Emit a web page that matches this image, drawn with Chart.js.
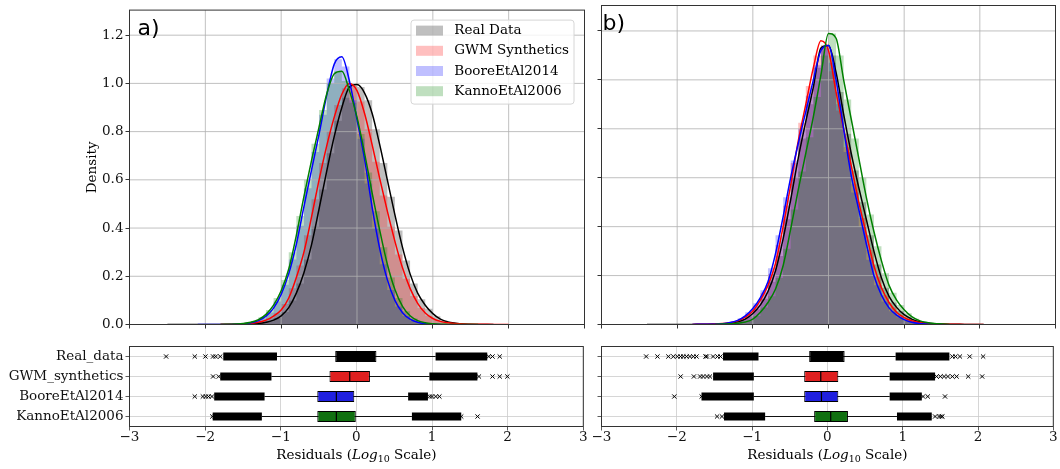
<!DOCTYPE html>
<html>
<head>
<meta charset="utf-8">
<title>Residuals</title>
<script src="https://cdn.jsdelivr.net/npm/chart.js@4.4.1/dist/chart.umd.min.js"></script>
<style>
  html, body { margin: 0; padding: 0; background: #ffffff; }
  #wrap { position: relative; width: 1060px; height: 469px; overflow: hidden; }
  #wrap canvas { position: absolute; }
</style>
</head>
<body>
<div id="wrap">
  <canvas id="histA" width="590" height="335" style="left:0px;top:0px;width:590px;height:335px"></canvas>
  <canvas id="histB" width="470" height="335" style="left:590px;top:0px;width:470px;height:335px"></canvas>
  <canvas id="boxA" width="590" height="134" style="left:0px;top:335px;width:590px;height:134px"></canvas>
  <canvas id="boxB" width="470" height="134" style="left:590px;top:335px;width:470px;height:134px"></canvas>
</div>
<script>
const seriesNames = ['Real Data', 'GWM Synthetics', 'BooreEtAl2014', 'KannoEtAl2006'];
const boxLabels = ['Real_data', 'GWM_synthetics', 'BooreEtAl2014', 'KannoEtAl2006'];
const lineColors = ['#000000', '#ff0000', '#0000ff', '#008000'];
const histColors = ['rgba(0,0,0,0.25)', 'rgba(255,0,0,0.25)', 'rgba(0,0,255,0.25)', 'rgba(0,128,0,0.25)'];
const boxColors = ['#000000', '#df2020', '#2020df', '#107010'];

// histogram bin centres (bin width 0.1)
const binCenters = [-1.55, -1.45, -1.35, -1.25, -1.15, -1.05, -0.95, -0.85, -0.75, -0.65, -0.55, -0.45, -0.35, -0.25, -0.15, -0.05,
  0.05, 0.15, 0.25, 0.35, 0.45, 0.55, 0.65, 0.75, 0.85, 0.95, 1.05, 1.15, 1.25, 1.35, 1.45, 1.55];

// panel a) histograms
const realHistA = [0.001, 0.002, 0.003, 0.007, 0.013, 0.027, 0.052, 0.1, 0.17, 0.27, 0.405, 0.56, 0.71, 0.845, 0.94, 0.99,
  0.985, 0.93, 0.81, 0.67, 0.53, 0.39, 0.265, 0.17, 0.105, 0.065, 0.034, 0.016, 0.008, 0.004, 0.002, 0.001];
const gwmHistA = [0.002, 0.004, 0.007, 0.013, 0.026, 0.047, 0.085, 0.15, 0.245, 0.37, 0.52, 0.67, 0.8, 0.91, 0.98, 0.99,
  0.925, 0.81, 0.675, 0.535, 0.405, 0.29, 0.19, 0.118, 0.068, 0.036, 0.019, 0.01, 0.005, 0.003, 0.001, 0.001];
const booreHistA = [0.002, 0.005, 0.011, 0.025, 0.05, 0.095, 0.165, 0.27, 0.41, 0.565, 0.715, 0.87, 1.02, 1.1, 1.07, 0.93,
  0.77, 0.585, 0.4, 0.25, 0.143, 0.075, 0.035, 0.015, 0.006, 0.002, 0.001, 0, 0, 0, 0, 0];
const kannoHistA = [0.003, 0.006, 0.014, 0.03, 0.06, 0.11, 0.185, 0.3, 0.45, 0.6, 0.75, 0.89, 1.0, 1.05, 1.01, 0.92,
  0.79, 0.63, 0.47, 0.32, 0.195, 0.11, 0.055, 0.025, 0.011, 0.005, 0.002, 0.001, 0, 0, 0, 0];

// panel a) kde curves
const kdeXA = [-2.5, -2.1, -1.8, -1.6, -1.5, -1.4, -1.3, -1.2, -1.1, -1.0, -0.9, -0.8, -0.7, -0.6, -0.5, -0.4, -0.3, -0.2, -0.1,
  0, 0.1, 0.2, 0.3, 0.4, 0.5, 0.6, 0.7, 0.8, 0.9, 1.0, 1.1, 1.2, 1.3, 1.4, 1.5, 1.6, 1.8, 2.0];
const realKdeA = [0, 0, 0.0003, 0.0005, 0.001, 0.002, 0.004, 0.009, 0.018, 0.036, 0.07, 0.13, 0.215, 0.33, 0.48, 0.635, 0.78, 0.9, 0.985,
  0.995, 0.96, 0.875, 0.745, 0.6, 0.455, 0.32, 0.21, 0.13, 0.08, 0.045, 0.022, 0.01, 0.005, 0.002, 0.001, 0.0005, 0.0002, null];
const gwmKdeA = [null, null, 0.001, 0.002, 0.003, 0.005, 0.009, 0.018, 0.035, 0.06, 0.11, 0.195, 0.3, 0.445, 0.6, 0.74, 0.86, 0.955, 1.0,
  0.97, 0.875, 0.745, 0.605, 0.47, 0.345, 0.235, 0.15, 0.088, 0.048, 0.025, 0.013, 0.007, 0.004, 0.002, 0.001, 0.001, 0.0005, 0.0002];
const booreKdeA = [null, 0, 0.0003, 0.001, 0.003, 0.007, 0.016, 0.035, 0.068, 0.125, 0.211, 0.333, 0.489, 0.64, 0.79, 0.95, 1.08, 1.11, 1.01,
  0.85, 0.686, 0.486, 0.314, 0.186, 0.1, 0.049, 0.022, 0.009, 0.003, 0.001, 0.0003, null, null, null, null, null, null, null];
const kannoKdeA = [null, null, 0.0005, 0.002, 0.004, 0.009, 0.02, 0.042, 0.08, 0.14, 0.23, 0.37, 0.53, 0.68, 0.82, 0.955, 1.04, 1.05, 0.97,
  0.86, 0.71, 0.545, 0.39, 0.25, 0.145, 0.075, 0.036, 0.016, 0.007, 0.003, 0.001, 0.0005, 0.0003, 0.0002, 0.0001, 0, null, null];

// panel b) histograms
const realHistB = [0.001, 0.002, 0.004, 0.008, 0.016, 0.033, 0.062, 0.105, 0.175, 0.28, 0.43, 0.6, 0.76, 0.9, 1.05, 1.14,
  1.1, 0.95, 0.78, 0.63, 0.5, 0.365, 0.245, 0.15, 0.09, 0.055, 0.03, 0.016, 0.008, 0.004, 0.002, 0.001];
const gwmHistB = [0.001, 0.003, 0.005, 0.011, 0.022, 0.042, 0.077, 0.13, 0.205, 0.325, 0.485, 0.66, 0.825, 0.975, 1.1, 1.14,
  1.035, 0.875, 0.725, 0.575, 0.435, 0.305, 0.195, 0.12, 0.07, 0.039, 0.021, 0.011, 0.006, 0.003, 0.002, 0.001];
const booreHistB = [0.001, 0.002, 0.005, 0.012, 0.026, 0.05, 0.087, 0.14, 0.23, 0.365, 0.52, 0.67, 0.8, 0.935, 1.06, 1.13,
  1.07, 0.9, 0.705, 0.54, 0.4, 0.265, 0.16, 0.094, 0.054, 0.03, 0.014, 0.006, 0.003, 0.001, 0.001, 0];
const kannoHistB = [0, 0.001, 0.002, 0.003, 0.007, 0.016, 0.035, 0.07, 0.115, 0.19, 0.31, 0.47, 0.625, 0.765, 0.93, 1.1,
  1.19, 1.1, 0.92, 0.76, 0.6, 0.45, 0.32, 0.21, 0.13, 0.08, 0.046, 0.024, 0.012, 0.006, 0.003, 0.001];

// panel b) kde curves
const kdeXB = [-2.4, -2.1, -1.8, -1.6, -1.5, -1.4, -1.3, -1.2, -1.1, -1.0, -0.9, -0.8, -0.7, -0.6, -0.5, -0.4, -0.3, -0.2, -0.1,
  0, 0.1, 0.2, 0.3, 0.4, 0.5, 0.6, 0.7, 0.8, 0.9, 1.0, 1.1, 1.2, 1.3, 1.4, 1.5, 1.6, 1.8, 2.05];
const realKdeB = [0, 0.0002, 0.0005, 0.001, 0.002, 0.003, 0.006, 0.011, 0.022, 0.045, 0.08, 0.135, 0.22, 0.35, 0.51, 0.68, 0.83, 0.97, 1.13,
  1.14, 1.03, 0.86, 0.7, 0.56, 0.43, 0.3, 0.19, 0.115, 0.07, 0.04, 0.022, 0.011, 0.006, 0.003, 0.002, 0.001, 0.0005, 0];
const gwmKdeB = [null, null, 0.0005, 0.001, 0.002, 0.004, 0.007, 0.015, 0.03, 0.055, 0.1, 0.16, 0.25, 0.4, 0.57, 0.75, 0.9, 1.05, 1.16,
  1.12, 0.95, 0.8, 0.65, 0.5, 0.37, 0.24, 0.15, 0.09, 0.05, 0.028, 0.015, 0.008, 0.004, 0.002, 0.001, 0.001, 0.0005, 0];
const booreKdeB = [null, null, 0.0003, 0.001, 0.001, 0.003, 0.008, 0.017, 0.035, 0.065, 0.11, 0.175, 0.29, 0.44, 0.6, 0.74, 0.87, 1.0, 1.12,
  1.14, 1.0, 0.8, 0.61, 0.47, 0.33, 0.2, 0.12, 0.068, 0.038, 0.02, 0.009, 0.004, 0.002, 0.001, 0.0005, null, null, null];
const kannoKdeB = [null, null, null, null, 0.0005, 0.002, 0.003, 0.005, 0.01, 0.022, 0.05, 0.09, 0.145, 0.24, 0.39, 0.55, 0.7, 0.85, 1.02,
  1.19, 1.17, 1.0, 0.84, 0.68, 0.52, 0.38, 0.26, 0.16, 0.1, 0.06, 0.032, 0.016, 0.008, 0.004, 0.002, 0, null, null];

// box plots, panel a)
const q1A = [-0.28, -0.356, -0.517, -0.517];
const medA = [-0.01, -0.088, -0.265, -0.265];
const q3A = [0.265, 0.179, -0.028, -0.008];
const whLoA = [-1.05, -1.123, -1.214, -1.25];
const whHiA = [1.047, 0.965, 0.684, 0.734];
const denseLoA = [-1.76, -1.8, -1.88, -1.9];
const denseHiA = [1.73, 1.6, 0.946, 1.386];
const realOutA = [-2.516, -2.137, -1.996, -1.895, -1.86, -1.8, 1.75, 1.8, 1.895];
const gwmOutA = [-1.895, -1.82, 1.62, 1.8, 1.895, 1.996];
const booreOutA = [-2.137, -2.03, -1.99, -1.955, -1.91, 0.97, 1.0, 1.05, 1.097];
const kannoOutA = [-1.905, -1.87, 1.3, 1.35, 1.386, 1.602];

// box plots, panel b)
const q1B = [-0.242, -0.308, -0.308, -0.176];
const medB = [-0.01, -0.088, -0.079, 0.044];
const q3B = [0.229, 0.145, 0.145, 0.273];
const whLoB = [-0.915, -0.977, -0.977, -0.827];
const whHiB = [0.906, 0.827, 0.827, 0.924];
const denseLoB = [-1.386, -1.518, -1.672, -1.373];
const denseHiB = [1.62, 1.43, 1.254, 1.386];
const realOutB = [-2.407, -2.257, -2.112, -2.046, -1.993, -1.95, -1.914, -1.87, -1.826, -1.78, -1.738, -1.619, -1.6, -1.518, -1.46, -1.42,
  1.66, 1.7, 1.76, 1.89, 2.068];
const gwmOutB = [-1.949, -1.773, -1.69, -1.65, -1.6, -1.56, 1.45, 1.5, 1.55, 1.6, 1.66, 1.716, 1.87, 2.055];
const booreOutB = [-2.033, -1.67, -1.62, 1.27, 1.333, 1.562];
const kannoOutB = [-1.465, -1.4, 1.43, 1.483, 1.509, 1.527];

const serif = '"DejaVu Serif", "Liberation Serif", serif';

function minusLabel(v) {
  return v < 0 ? '\u2212' + Math.abs(v) : String(v);
}

// grid drawn after the histograms and before the kde lines (matplotlib z-order)
const gridBetween = {
  id: 'gridBetween',
  beforeDatasetsDraw(chart) { chart.$gridDone = false; },
  beforeDatasetDraw(chart, args) {
    if (chart.$gridDone || !chart.data.datasets[args.index].isKde) return;
    chart.$gridDone = true;
    const ctx = chart.ctx;
    const a = chart.chartArea;
    ctx.save();
    ctx.strokeStyle = '#b0b0b0';
    ctx.lineWidth = 0.8;
    chart.scales.x.ticks.forEach(t => {
      const px = chart.scales.x.getPixelForValue(t.value);
      ctx.beginPath(); ctx.moveTo(px, a.top); ctx.lineTo(px, a.bottom); ctx.stroke();
    });
    chart.scales.y.ticks.forEach(t => {
      const py = chart.scales.y.getPixelForValue(t.value);
      ctx.beginPath(); ctx.moveTo(a.left, py); ctx.lineTo(a.right, py); ctx.stroke();
    });
    ctx.restore();
  }
};

const frame = {
  id: 'frame',
  afterDatasetsDraw(chart) {
    const ctx = chart.ctx;
    const a = chart.chartArea;
    ctx.save();
    ctx.strokeStyle = '#333333';
    ctx.lineWidth = 1;
    ctx.strokeRect(a.left, a.top, a.right - a.left, a.bottom - a.top);
    ctx.restore();
  }
};

function panelLetter(text, dx) {
  return {
    id: 'panelLetter',
    afterDraw(chart) {
      const ctx = chart.ctx;
      ctx.save();
      ctx.font = '22px "DejaVu Sans", sans-serif';
      ctx.fillStyle = '#000';
      ctx.textBaseline = 'alphabetic';
      ctx.fillText(text, chart.chartArea.left + dx, chart.chartArea.top + 24.5);
      ctx.restore();
    }
  };
}

const legendBox = {
  id: 'legendBox',
  afterDraw(chart) {
    const ctx = chart.ctx;
    const a = chart.chartArea;
    const x0 = a.right - 173.5, y0 = a.top + 10, w = 163, h = 84;
    ctx.save();
    ctx.beginPath();
    ctx.roundRect(x0, y0, w, h, 3);
    ctx.fillStyle = 'rgba(255,255,255,0.8)';
    ctx.fill();
    ctx.strokeStyle = '#d6d6d6';
    ctx.lineWidth = 1;
    ctx.stroke();
    ctx.font = '13.5px ' + serif;
    ctx.textBaseline = 'middle';
    seriesNames.forEach((name, k) => {
      const cy = y0 + 10.5 + k * 20.2;
      ctx.fillStyle = histColors[k];
      ctx.fillRect(x0 + 5, cy - 5, 27, 10);
      ctx.fillStyle = '#000';
      ctx.fillText(name, x0 + 43.3, cy);
    });
    ctx.restore();
  }
};

const densityLabel = {
  id: 'densityLabel',
  afterDraw(chart) {
    const ctx = chart.ctx;
    const a = chart.chartArea;
    ctx.save();
    ctx.translate(95.5, (a.top + a.bottom) / 2);
    ctx.rotate(-Math.PI / 2);
    ctx.font = '13.5px ' + serif;
    ctx.fillStyle = '#000';
    ctx.textAlign = 'center';
    ctx.textBaseline = 'alphabetic';
    ctx.fillText('Density', 0, 0);
    ctx.restore();
  }
};

// "Residuals (Log10 Scale)" with italic Log and subscript 10
const residualTitle = {
  id: 'residualTitle',
  afterDraw(chart) {
    const ctx = chart.ctx;
    const a = chart.chartArea;
    const parts = [
      ['Residuals (', '13.5px ' + serif, 0],
      ['Log', 'italic 13.5px ' + serif, 0],
      ['10', '9.5px ' + serif, 3.5],
      [' Scale)', '13.5px ' + serif, 0]
    ];
    ctx.save();
    let total = 0;
    parts.forEach(p => { ctx.font = p[1]; total += ctx.measureText(p[0]).width; });
    let x = (a.left + a.right) / 2 - total / 2;
    const baseY = a.bottom + 32;
    ctx.fillStyle = '#000';
    ctx.textBaseline = 'alphabetic';
    parts.forEach(p => {
      ctx.font = p[1];
      ctx.fillText(p[0], x, baseY + p[2]);
      x += ctx.measureText(p[0]).width;
    });
    ctx.restore();
  }
};

function makeHist(id, hists, kdes, kdeX, yWidth, padRight, showY, extraPlugins) {
  const datasets = [];
  // histograms as filled step outlines, so the bins have no seams between them
  hists.forEach((h, k) => {
    datasets.push({
      type: 'line',
      label: seriesNames[k],
      data: binCenters.map((x, i) => ({ x: x, y: h[i] })),
      stepped: 'middle',
      fill: 'origin',
      backgroundColor: histColors[k],
      borderWidth: 0,
      borderColor: 'rgba(0,0,0,0)',
      pointRadius: 0,
      order: 8 - k
    });
  });
  kdes.forEach((d, k) => {
    const pts = [];
    kdeX.forEach((x, i) => { if (d[i] !== null) pts.push({ x: x, y: d[i] }); });
    datasets.push({
      type: 'line',
      label: seriesNames[k],
      isKde: true,
      data: pts,
      borderColor: lineColors[k],
      borderWidth: 1.5,
      pointRadius: 0,
      cubicInterpolationMode: 'monotone',
      fill: false,
      order: 4 - k
    });
  });
  return new Chart(document.getElementById(id), {
    type: 'line',
    data: { datasets: datasets },
    options: {
      responsive: false,
      animation: false,
      devicePixelRatio: 1,
      events: [],
      layout: { padding: { top: 5.5, right: padRight, bottom: 0, left: 0 } },
      plugins: { legend: { display: false }, tooltip: { enabled: false } },
      scales: {
        x: {
          type: 'linear', min: -3, max: 3, offset: false,
          ticks: { stepSize: 1, display: false },
          grid: { drawOnChartArea: false, offset: false, tickLength: 4, tickColor: '#333333' },
          border: { display: false },
          afterFit: s => { s.height = 10.5; }
        },
        y: {
          type: 'linear', min: 0, max: 1.304,
          ticks: {
            stepSize: 0.2, display: showY, color: '#111', padding: 2,
            font: { family: serif, size: 13.5 },
            callback: v => v.toFixed(1)
          },
          afterBuildTicks: s => { s.ticks = s.ticks.filter(t => t.value < 1.25); },
          grid: { drawOnChartArea: false, tickLength: 4, tickColor: '#333333' },
          border: { display: false },
          afterFit: s => { s.width = yWidth; }
        }
      }
    },
    plugins: [gridBetween, frame].concat(extraPlugins)
  });
}

function makeBox(id, q1, med, q3, whLo, whHi, denseLo, denseHi, outs, yWidth, padRight, showY) {
  const outPts = [];
  outs.forEach((arr, k) => arr.forEach(v => outPts.push({ x: v, y: boxLabels[k] })));
  const datasets = [
    { type: 'bar', indexAxis: 'y', data: whLo.map((v, i) => [v, whHi[i]]), backgroundColor: '#111111',
      barThickness: 1, grouped: false, borderWidth: 0, inflateAmount: 0, order: 6 },
    { type: 'bar', indexAxis: 'y', data: denseLo.map((v, i) => [v, whLo[i]]), backgroundColor: '#000000',
      barThickness: 8, grouped: false, borderWidth: 0, inflateAmount: 0, order: 5 },
    { type: 'bar', indexAxis: 'y', data: whHi.map((v, i) => [v, denseHi[i]]), backgroundColor: '#000000',
      barThickness: 8, grouped: false, borderWidth: 0, inflateAmount: 0, order: 4 },
    { type: 'bar', indexAxis: 'y', data: q1.map((v, i) => [v, q3[i]]), backgroundColor: boxColors,
      borderColor: '#000000', borderWidth: 1, borderSkipped: false, barThickness: 11, grouped: false,
      inflateAmount: 0, order: 3 },
    { type: 'scatter', data: med.map((v, i) => ({ x: v, y: boxLabels[i] })), pointStyle: 'line',
      pointRotation: 90, pointRadius: 5.5, pointBorderColor: '#000000', pointBorderWidth: 1.2, order: 2 },
    { type: 'scatter', data: outPts, pointStyle: 'crossRot', pointRadius: 3, pointBorderColor: '#000000',
      pointBackgroundColor: '#000000', pointBorderWidth: 1, order: 1 }
  ];
  return new Chart(document.getElementById(id), {
    type: 'bar',
    data: { labels: boxLabels, datasets: datasets },
    options: {
      indexAxis: 'y',
      responsive: false,
      animation: false,
      devicePixelRatio: 1,
      events: [],
      layout: { padding: { top: 11.5, right: padRight, bottom: 0, left: 0 } },
      plugins: { legend: { display: false }, tooltip: { enabled: false } },
      scales: {
        x: {
          type: 'linear', min: -3, max: 3, offset: false, position: 'bottom',
          ticks: {
            stepSize: 1, color: '#111', padding: -1,
            font: { family: serif, size: 13.5 },
            callback: v => minusLabel(v)
          },
          grid: { color: '#cccccc', lineWidth: 0.8, offset: false, tickLength: 4, tickColor: '#333333' },
          border: { display: false },
          afterFit: s => { s.height = 42.5; }
        },
        y: {
          type: 'category', labels: boxLabels, offset: true, position: 'left',
          ticks: { display: showY, color: '#111', padding: 2, font: { family: serif, size: 13.5 } },
          grid: { color: '#cccccc', lineWidth: 0.8, offset: false, tickLength: 4, tickColor: '#333333' },
          border: { display: false },
          afterFit: s => { s.width = yWidth; }
        }
      }
    },
    plugins: [frame, residualTitle]
  });
}

makeHist('histA', [realHistA, gwmHistA, booreHistA, kannoHistA], [realKdeA, gwmKdeA, booreKdeA, kannoKdeA], kdeXA,
  129.5, 5.5, true, [panelLetter('a)', 8), legendBox, densityLabel]);
makeHist('histB', [realHistB, gwmHistB, booreHistB, kannoHistB], [realKdeB, gwmKdeB, booreKdeB, kannoKdeB], kdeXB,
  11.5, 4.5, false, [panelLetter('b)', 1)]);
makeBox('boxA', q1A, medA, q3A, whLoA, whHiA, denseLoA, denseHiA, [realOutA, gwmOutA, booreOutA, kannoOutA], 129.5, 5.5, true);
makeBox('boxB', q1B, medB, q3B, whLoB, whHiB, denseLoB, denseHiB, [realOutB, gwmOutB, booreOutB, kannoOutB], 11.5, 4.5, false);
</script>
</body>
</html>
